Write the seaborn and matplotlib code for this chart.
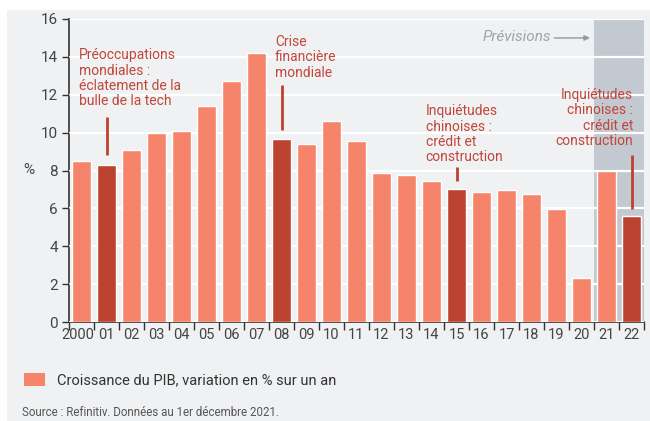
import matplotlib
matplotlib.use("Agg")
import matplotlib.pyplot as plt
from matplotlib.patches import Rectangle
from matplotlib.transforms import ScaledTranslation
import seaborn as sns

# Croissance du PIB chinois, variation en % sur un an
years = ["2000", "01", "02", "03", "04", "05", "06", "07", "08", "09", "10", "11",
         "12", "13", "14", "15", "16", "17", "18", "19", "20", "21", "22"]
growth = [8.5, 8.3, 9.1, 10.0, 10.1, 11.4, 12.7, 14.2, 9.65, 9.4, 10.6, 9.55,
          7.85, 7.77, 7.42, 7.04, 6.85, 6.95, 6.75, 5.95, 2.33, 8.0, 5.6]
crisis_years = ["01", "08", "15", "22"]
forecast_years = ["21", "22"]

notes = [
    "Préoccupations\nmondiales :\néclatement de la\nbulle de la tech",
    "Crise\nfinancière\nmondiale",
    "Inquiétudes\nchinoises :\ncrédit et\nconstruction",
    "Inquiétudes\nchinoises :\ncrédit et\nconstruction",
]
note_years = ["01", "08", "15", "22"]
note_text_x = [-0.1, 7.74, 13.77, 22.06]
note_text_y = [14.45, 15.15, 11.5, 12.35]
note_align = ["left", "left", "left", "right"]
note_line = [(8.82, 10.85), (10.15, 12.52), (7.45, 8.19), (5.96, 8.82)]

LIGHT = "#f5846a"
DARK = "#bb4330"
NOTE = "#c0473a"
PANEL = "#f0f1f3"

sns.set_style("white")
plt.rcParams["font.family"] = ["Roboto", "DejaVu Sans"]

fig = plt.figure(figsize=(6.5, 4.21), dpi=100)
fig.patches.append(Rectangle((7 / 650, 0), 1, 1 - 10 / 421, transform=fig.transFigure,
                             facecolor=PANEL, edgecolor="none", zorder=-10))
ax = fig.add_axes([69 / 650, 1 - 322 / 421, 575 / 650, 303 / 421])
ax.set_facecolor(PANEL)

kind = ["crise" if y in crisis_years else "normal" for y in years]
sns.barplot(x=years, y=growth, hue=kind, palette={"normal": LIGHT, "crise": DARK},
            dodge=False, width=0.75, legend=False, ax=ax, zorder=3, saturation=1)

# zone des prévisions
pos = {y: i for i, y in enumerate(years)}
f0 = pos[forecast_years[0]] - 0.5
f1 = pos[forecast_years[-1]] + 0.5
ax.axvspan(f0, f1, color="#c2c9d0", zorder=0, lw=0)

ax.set_xlim(-0.5, len(years) - 0.5)
ax.set_ylim(0, 16)
ax.set_yticks(range(0, 17, 2))
ax.yaxis.grid(True, color="white", lw=1.6, zorder=1)
ax.set_axisbelow(False)
for line in ax.get_ygridlines():
    line.set_zorder(1)

ax.set_xticks([i - 0.5 for i in range(len(years) + 1)])
ax.set_xticklabels([])
ax.set_xticks(range(len(years)), minor=True)
ax.set_xticklabels(years, minor=True)
ax.tick_params(axis="x", which="major", length=6, width=1, color="#333333", direction="out", bottom=True)
ax.tick_params(axis="x", which="minor", length=0, labelsize=10.5, labelcolor="#444444", pad=4)
ax.tick_params(axis="y", length=5, width=1, color="#333333", direction="out", left=True,
               labelsize=11, labelcolor="#444444", pad=3)
ax.set_xlabel("")
# "2000" légèrement décalé à gauche, comme dans l'original
first = ax.get_xticklabels(minor=True)[0]
first.set_transform(first.get_transform() + ScaledTranslation(-4 / 100, 0, fig.dpi_scale_trans))

for s in ["top", "right"]:
    ax.spines[s].set_visible(False)
for s in ["left", "bottom"]:
    ax.spines[s].set_color("#333333")
    ax.spines[s].set_linewidth(1.2)

fig.text(23 / 650, 1 - 170 / 421, "%", fontsize=11, color="#444444", va="center")

for txt, yr, tx, ty, al, (l0, l1) in zip(notes, note_years, note_text_x, note_text_y,
                                         note_align, note_line):
    ax.text(tx, ty, txt, ha=al, va="top", multialignment=al, fontsize=10, color=NOTE,
            linespacing=1.12, zorder=5)
    ax.plot([pos[yr], pos[yr]], [l0, l1], color=DARK, lw=2, zorder=5, solid_capstyle="butt")

ax.text(18.8, 15.05, "Prévisions", ha="right", va="center", fontsize=11, style="italic",
        color="#9aa5ae", zorder=5)
ax.annotate("", xy=(20.45, 15.0), xytext=(18.8, 15.0),
            arrowprops=dict(arrowstyle="-|>", color="#8e9aa4", lw=1, mutation_scale=8), zorder=5)

# légende et source
fig.patches.append(Rectangle((24 / 650, 1 - 386 / 421), 21 / 650, 13 / 421,
                             transform=fig.transFigure, facecolor=LIGHT, edgecolor="none"))
fig.text(57 / 650, 1 - 380 / 421, "Croissance du PIB, variation en % sur un an",
         fontsize=10.5, color="#333333", va="center")
fig.text(22 / 650, 1 - 413 / 421, "Source : Refinitiv. Données au 1er décembre 2021.",
         fontsize=8.3, color="#555555", va="center")

fig.savefig("out.png", dpi=100, facecolor="white")
